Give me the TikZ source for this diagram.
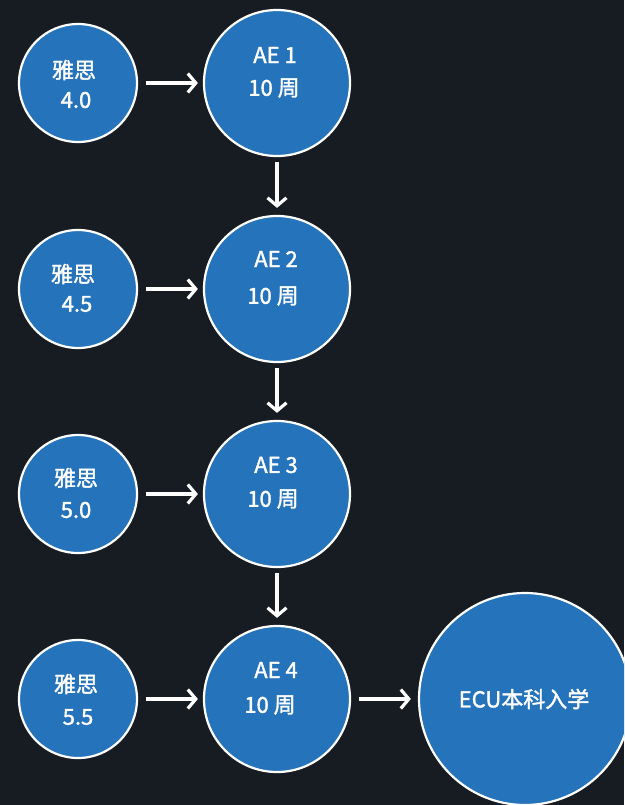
\documentclass[tikz,border=0pt]{standalone}
\usepackage{fontspec}
\setmainfont{Noto Sans CJK SC}[FakeBold=1.6]
\usetikzlibrary{arrows.meta}
\definecolor{bg}{HTML}{171B22}
\definecolor{cblue}{HTML}{2573BB}
\tikzset{
  small/.style={circle,draw=white,line width=2.2pt,fill=cblue,minimum size=118pt,inner sep=0pt},
  big/.style={circle,draw=white,line width=2.2pt,fill=cblue,minimum size=146pt,inner sep=0pt},
  huge/.style={circle,draw=white,line width=2.2pt,fill=cblue,minimum size=212pt,inner sep=0pt},
  txt/.style={text=white,font=\fontsize{22}{26}\selectfont,inner sep=0pt},
  arr/.style={draw=white,line width=3.4pt,-{Straight Barb[length=8pt,width=19pt,line width=3.2pt]}}
}
\begin{document}
\begin{tikzpicture}[x=1pt,y=-1pt]
\useasboundingbox (0,0) rectangle (624,805);
\fill[bg] (0,0) rectangle (624,805);
\begin{scope}
\clip (0,0) rectangle (624,805);
% small circles
\node[small] (s1) at (78,83) {};
\node[small] (s2) at (78,289) {};
\node[small] (s3) at (78,494) {};
\node[small] (s4) at (78,699) {};
% AE circles
\node[big] (a1) at (277,83) {};
\node[big] (a2) at (277,289) {};
\node[big] (a3) at (277,494) {};
\node[big] (a4) at (277,699) {};
% ECU
\node[huge] (e) at (525,699) {};
\end{scope}
% texts
\node[txt] (s1a) at (74,70) {雅思};
\node[txt] (s1b) at (76,100) {4.0};
\node[txt] (s2a) at (73,274) {雅思};
\node[txt] (s2b) at (77,304) {4.5};
\node[txt] (s3a) at (76,478) {雅思};
\node[txt] (s3b) at (76,510) {5.0};
\node[txt] (s4a) at (76,684) {雅思};
\node[txt] (s4b) at (78,717) {5.5};
\node[txt] (a1a) at (275,55) {AE 1};
\node[txt] (a1b) at (274,88) {10 周};
\node[txt] (a2a) at (276,259) {AE 2};
\node[txt] (a2b) at (273,296) {10 周};
\node[txt] (a3a) at (276,465) {AE 3};
\node[txt] (a3b) at (273,499) {10 周};
\node[txt] (a4a) at (276,670) {AE 4};
\node[txt] (a4b) at (270,705) {10 周};
\node[txt] (et) at (524,699) {ECU本科入学};
% arrows
\draw[arr,shorten <=8pt,shorten >=5pt] (s1) -- (a1);
\draw[arr,shorten <=8pt,shorten >=5pt] (s2) -- (a2);
\draw[arr,shorten <=8pt,shorten >=5pt] (s3) -- (a3);
\draw[arr,shorten <=8pt,shorten >=5pt] (s4) -- (a4);
\draw[arr,shorten <=5pt,shorten >=7pt] (a1) -- (a2);
\draw[arr,shorten <=5pt,shorten >=7pt] (a2) -- (a3);
\draw[arr,shorten <=5pt,shorten >=7pt] (a3) -- (a4);
\draw[arr,shorten <=8pt,shorten >=7pt] (a4) -- (e);
\end{tikzpicture}
\end{document}
